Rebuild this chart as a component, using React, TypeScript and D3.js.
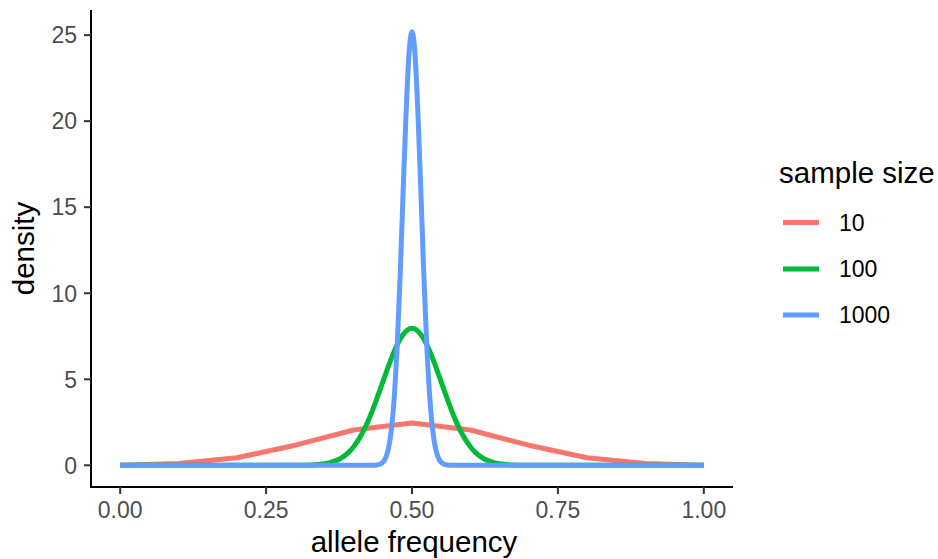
import React from "react";
import * as d3 from "d3";

const seriesNames = ["10", "100", "1000"];
const seriesColors = ["#F8766D", "#00BA38", "#619CFF"];

const xTicks = [0, 0.25, 0.5, 0.75, 1];
const xTickLabels = ["0.00", "0.25", "0.50", "0.75", "1.00"];
const yTicks = [0, 5, 10, 15, 20, 25];

// sample size 10
const x10 = [0, 0.1, 0.2, 0.3, 0.4, 0.5, 0.6, 0.7, 0.8, 0.9, 1.0];
const y10 = [0.01, 0.1, 0.44, 1.17, 2.05, 2.46, 2.05, 1.17, 0.44, 0.1, 0.01];

// sample size 100
const x100 = [
  0, 0.3, 0.33, 0.34, 0.35, 0.36, 0.37, 0.38, 0.39, 0.4, 0.41, 0.42, 0.43, 0.44, 0.45, 0.46, 0.47, 0.48, 0.49,
  0.5, 0.51, 0.52, 0.53, 0.54, 0.55, 0.56, 0.57, 0.58, 0.59, 0.6, 0.61, 0.62, 0.63, 0.64, 0.65, 0.66, 0.67, 0.7, 1,
];
const y100 = [
  0, 0, 0.02, 0.05, 0.09, 0.16, 0.27, 0.45, 0.71, 1.08, 1.58, 2.22, 3.0, 3.9, 4.85, 5.8, 6.66, 7.35, 7.8,
  7.96, 7.8, 7.35, 6.66, 5.8, 4.85, 3.9, 3.0, 2.22, 1.58, 1.08, 0.71, 0.45, 0.27, 0.16, 0.09, 0.05, 0.02, 0, 0,
];

// sample size 1000
const x1000 = [
  0, 0.43, 0.44, 0.445, 0.45, 0.455, 0.46, 0.465, 0.47, 0.475, 0.48, 0.485, 0.49, 0.495,
  0.5, 0.505, 0.51, 0.515, 0.52, 0.525, 0.53, 0.535, 0.54, 0.545, 0.55, 0.555, 0.56, 0.57, 1,
];
const y1000 = [
  0, 0, 0.02, 0.06, 0.17, 0.44, 1.03, 2.17, 4.17, 7.2, 11.3, 16.1, 20.6, 23.97,
  25.2, 23.97, 20.6, 16.1, 11.3, 7.2, 4.17, 2.17, 1.03, 0.44, 0.17, 0.06, 0.02, 0, 0,
];

const seriesX = [x10, x100, x1000];
const seriesY = [y10, y100, y1000];

const W = 938;
const H = 559;
const panel = { left: 91, right: 733, top: 10, bottom: 487 };
const font = "'Liberation Sans', Arial, Helvetica, sans-serif";

export default function App() {
  const x = d3.scaleLinear().domain([-0.05, 1.05]).range([panel.left, panel.right]);
  const y = d3.scaleLinear().domain([-1.26, 26.46]).range([panel.bottom, panel.top]);

  const makeLine = (i: number) => {
    const pts: [number, number][] = seriesX[i].map((v, j) => [v, seriesY[i][j]]);
    const gen = d3
      .line<[number, number]>()
      .x((d) => x(d[0]))
      .y((d) => y(d[1]))
      .curve(i === 0 ? d3.curveLinear : d3.curveMonotoneX);
    return gen(pts) || "";
  };

  const legendX0 = 783;
  const legendX1 = 819;
  const legendYs = [222.5, 269, 315];

  return (
    <svg
      width={W}
      height={H}
      style={{ position: "absolute", left: 0, top: 0, background: "#fff" }}
      fontFamily={font}
    >
      <rect x={0} y={0} width={W} height={H} fill="#fff" />
      {seriesNames.map((s, i) => (
        <path key={s} d={makeLine(i)} fill="none" stroke={seriesColors[i]} strokeWidth={5} strokeLinejoin="round" />
      ))}
      {/* axes */}
      <line x1={panel.left} x2={panel.left} y1={panel.top} y2={panel.bottom} stroke="#000" strokeWidth={2} />
      <line x1={panel.left - 1} x2={panel.right} y1={panel.bottom} y2={panel.bottom} stroke="#000" strokeWidth={2} />
      {yTicks.map((t) => (
        <g key={t}>
          <line x1={panel.left - 7} x2={panel.left} y1={y(t)} y2={y(t)} stroke="#333" strokeWidth={2} />
          <text x={77} y={y(t)} dy="0.36em" textAnchor="end" fontSize={23} fill="#4D4D4D">
            {t}
          </text>
        </g>
      ))}
      {xTicks.map((t, i) => (
        <g key={t}>
          <line x1={x(t)} x2={x(t)} y1={panel.bottom} y2={panel.bottom + 7} stroke="#333" strokeWidth={2} />
          <text x={x(t)} y={517.5} textAnchor="middle" fontSize={23} fill="#4D4D4D">
            {xTickLabels[i]}
          </text>
        </g>
      ))}
      <text x={414} y={552} textAnchor="middle" fontSize={29.5} fill="#000">
        allele frequency
      </text>
      <text
        transform={`translate(34, ${(panel.top + panel.bottom) / 2}) rotate(-90)`}
        textAnchor="middle"
        fontSize={29.5}
        fill="#000"
      >
        density
      </text>
      {/* legend */}
      <text x={779} y={182.5} fontSize={29.5} fill="#000">
        sample size
      </text>
      {seriesNames.map((s, i) => (
        <g key={s}>
          <line x1={legendX0} x2={legendX1} y1={legendYs[i]} y2={legendYs[i]} stroke={seriesColors[i]} strokeWidth={5} />
          <text x={839} y={legendYs[i]} dy="0.36em" fontSize={23} fill="#000">
            {s}
          </text>
        </g>
      ))}
    </svg>
  );
}
